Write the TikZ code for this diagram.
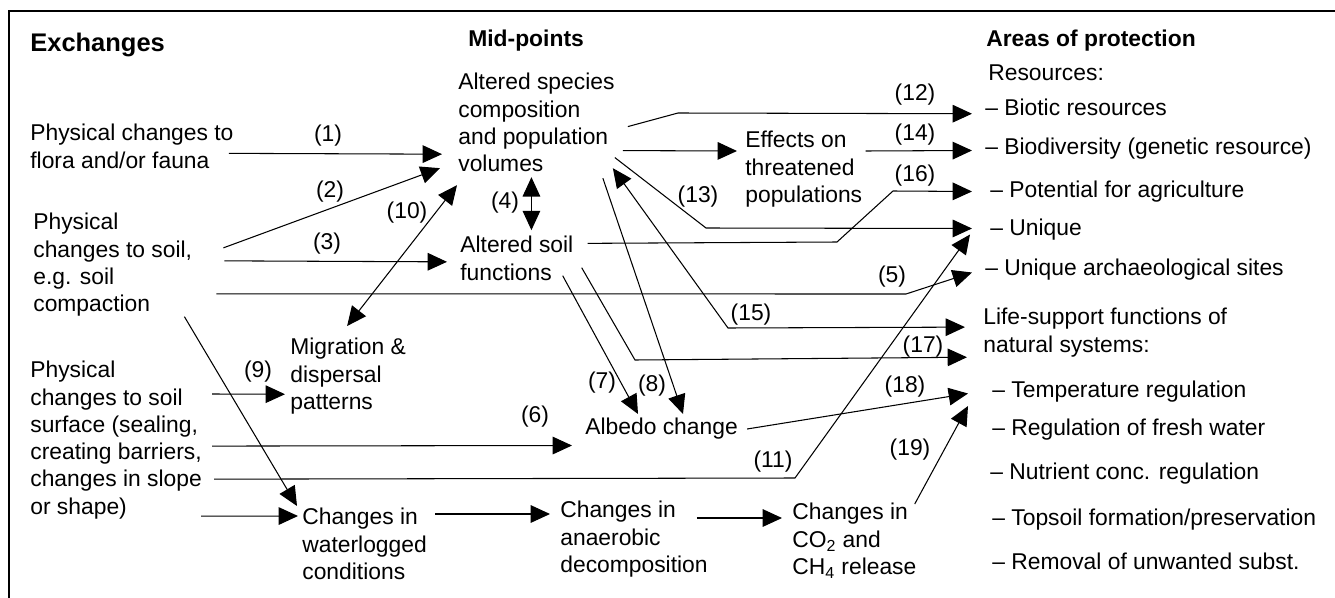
\documentclass[tikz,border=0pt]{standalone}
\usepackage{fontspec}
\setmainfont{Liberation Sans}
\usetikzlibrary{arrows.meta}

\begin{document}
\begin{tikzpicture}[
  x=0.02cm, y=-0.02cm,
  every node/.style={inner sep=0pt, anchor=north west, align=left,
    font=\fontsize{13}{15.5}\selectfont},
  head/.style={font=\fontsize{13}{15.5}\selectfont\bfseries},
  num/.style={anchor=center},
  link/.style={line width=0.6pt},
  arr/.style={link, -{Triangle[length=11pt,width=10pt]}},
  darr/.style={link, {Triangle[length=11pt,width=10pt]}-{Triangle[length=11pt,width=10pt]}}
]
\useasboundingbox (0,0) rectangle (1335,598);
\draw[line width=0.9pt] (1335,11) -- (9,11) -- (9,598);

% column heads
\node[head, font=\fontsize{14.5}{17}\selectfont\bfseries] (hexch) at (30,33) {Exchanges};
\node[head] (hmid) at (468,30) {Mid-points};
\node[head] (hprot) at (986,30) {Areas of protection};

% exchanges
\node (flora) at (30,124) {Physical changes to\\flora and/or fauna};
\node (soil) at (33,213) {Physical\\changes to soil,\\e.g. soil\\compaction};
\node (surface) at (30,361) {Physical\\changes to soil\\surface (sealing,\\creating barriers,\\changes in slope\\or shape)};

% mid-points
\node (species) at (458,73) {Altered species\\composition\\and population\\volumes};
\node (soilfn) at (460,236) {Altered soil\\functions};
\node (threat) at (745,131) {Effects on\\threatened\\populations};
\node (migr) at (290,338) {Migration \&\\dispersal\\patterns};
\node (albedo) at (585,418) {Albedo change};
\node (water) at (302,508) {Changes in\\waterlogged\\conditions};
\node (anaer) at (560,501) {Changes in\\anaerobic\\decomposition};
\node (gas) at (792,503) {Changes in\\CO\textsubscript{2} and\\CH\textsubscript{4} release};

% areas of protection
\node (res) at (988,64) {Resources:};
\node (biotic) at (985,99) {-- Biotic resources};
\node (biodiv) at (985,138) {-- Biodiversity (genetic resource)};
\node (agri) at (990,181) {-- Potential for agriculture};
\node (uniq) at (990,219) {-- Unique};
\node (arch) at (985,259) {-- Unique archaeological sites};
\node (life) at (983,308) {Life-support functions of\\natural systems:};
\node (temp) at (992,381) {-- Temperature regulation};
\node (fresh) at (992,419) {-- Regulation of fresh water};
\node (nutr) at (990,463) {-- Nutrient conc. regulation};
\node (topsoil) at (992,509) {-- Topsoil formation/preservation};
\node (removal) at (992,553) {-- Removal of unwanted subst.};

% bends
\coordinate (c5) at (906,294);
\coordinate (c11) at (795,478);
\coordinate (c12) at (678,113);
\coordinate (c13) at (706,228);
\coordinate (c15) at (728,328);
\coordinate (c16a) at (837,242);
\coordinate (c16b) at (893,191);
\coordinate (c17) at (635,360);

% connectors
\draw[arr] ([shift={(-5,7)}]flora.east) -- ([shift={(-16,-18)}]species.south west);
\draw[arr] ([shift={(31,-17)}]soil.east) -- ([shift={(-18,-4)}]species.south west);
\draw[arr] ([shift={(32,-4)}]soil.east) -- ([shift={(-13,3.5)}]soilfn.west);
\draw[darr] ([shift={(-5,5)}]species.south) -- ++(0,53);
\draw[arr] ([shift={(24,29)}]soil.east) -- (c5) -- ([shift={(-13,2.5)}]arch.west);
\draw[arr] ([shift={(10,6)}]surface.east) -- ([shift={(-13,16.5)}]albedo.west);
\draw[arr] ([shift={(-11,-5)}]soilfn.south east) -- ([shift={(53,-4)}]albedo.north west);
\draw[arr] ([shift={(-12,6)}]species.south east) -- ([shift={(98,-4)}]albedo.north west);
\draw[arr] ([shift={(10,33)}]surface.north east) -- ([shift={(-5,18)}]migr.west);
\draw[darr] ([shift={(-1,-12)}]migr.north) -- ([shift={(-1,13)}]species.south west);
\draw[arr] ([shift={(12,-40)}]surface.south east) -- (c11) -- ([shift={(-20,4.5)}]uniq.west);
\draw[arr] ([shift={(13,4)}]species.east) -- (c12) -- ([shift={(-13,6)}]biotic.west);
\draw[arr] ([shift={(0,35)}]species.east) -- (c13) -- ([shift={(-18,-1.5)}]uniq.west);
\draw[arr] ([shift={(8,28)}]species.east) -- ([shift={(-8,20)}]threat.north west);
\draw[arr] ([shift={(3,20)}]threat.north east) -- ([shift={(-13,1.5)}]biodiv.west);
\draw[darr] ([shift={(-2,-4)}]species.south east) -- (c15) -- ([shift={(-18,-5.5)}]life.west);
\draw[arr] ([shift={(14,-15)}]soilfn.east) -- (c16a) -- (c16b) -- ([shift={(-18,-0.5)}]agri.west);
\draw[arr] ([shift={(8,-13)}]soilfn.south east) -- (c17) -- ([shift={(-16,0)}]life.south west);
\draw[arr] ([shift={(9,0)}]albedo.east) -- ([shift={(-24,1.5)}]temp.west);
\draw[arr] ([shift={(-2,1)}]gas.north east) -- ([shift={(-24,3)}]temp.south west);
\draw[arr] ([shift={(-8,0)}]soil.south east) -- ([shift={(-5,-2)}]water.north west);
\draw[arr] ([shift={(-1,-3)}]surface.south east) -- ([shift={(-4,8)}]water.north west);
\draw[arr] ([shift={(8,6)}]water.north east) -- ([shift={(-10,13)}]anaer.north west);
\draw[arr] ([shift={(-11,17)}]anaer.north east) -- ([shift={(-10,15)}]gas.north west);

% numbers
\node[num] (n1) at (328,136) {(1)};
\node[num] (n2) at (330,192) {(2)};
\node[num] (n3) at (327,244) {(3)};
\node[num] (n4) at (505,203) {(4)};
\node[num] (n5) at (892,277) {(5)};
\node[num] (n6) at (535,417) {(6)};
\node[num] (n7) at (602,383) {(7)};
\node[num] (n8) at (652,386) {(8)};
\node[num] (n9) at (258,372) {(9)};
\node[num] (n10) at (407,213) {(10)};
\node[num] (n11) at (773,462) {(11)};
\node[num] (n12) at (915,95) {(12)};
\node[num] (n13) at (698,197) {(13)};
\node[num] (n14) at (915,135) {(14)};
\node[num] (n15) at (751,315) {(15)};
\node[num] (n16) at (915,176) {(16)};
\node[num] (n17) at (923,347) {(17)};
\node[num] (n18) at (905,387) {(18)};
\node[num] (n19) at (910,450) {(19)};
\end{tikzpicture}
\end{document}
